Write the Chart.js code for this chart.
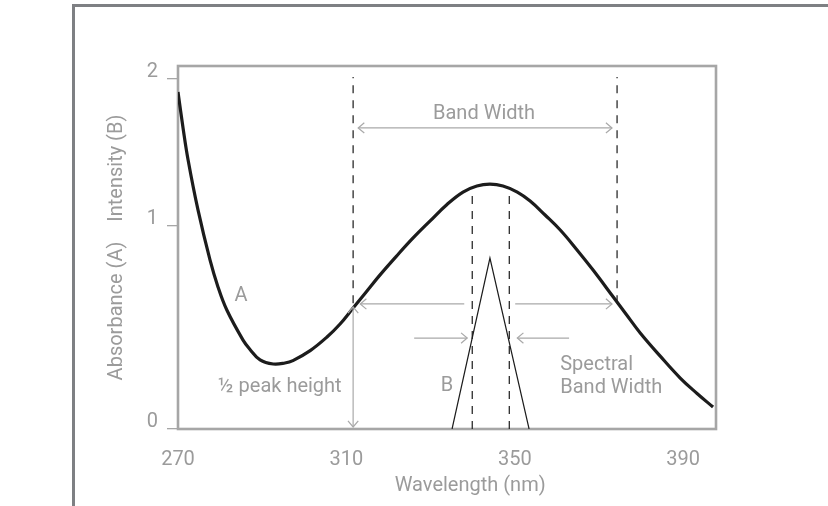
<!DOCTYPE html>
<html><head><meta charset="utf-8">
<script src="https://cdn.jsdelivr.net/npm/chart.js@4.4.1/dist/chart.umd.min.js"></script>
<style>html,body{margin:0;padding:0;background:#fff;}#wrap{position:relative;width:828px;height:506px;}canvas{display:block;}</style>
</head><body><div id="wrap"><canvas id="c" width="828" height="506"></canvas></div>
<script>
// ---- data ----
const wavelengthA = [270.0, 271.2, 272.4, 274.75, 277.6, 279.5, 281.6, 285.45, 287.1, 289.5, 292.6, 295.4, 297.3, 301.4, 305.4, 308.5, 311.6, 314.7, 318.0, 321.8, 325.85, 329.9, 333.9, 337.7, 341.0, 344.1, 347.2, 350.6, 353.65, 357.2, 360.8, 364.6, 368.6, 373.4, 376.5, 379.8, 384.5, 389.3, 393.3, 397.1];
const absorbanceA = [1.660, 1.483, 1.325, 1.079, 0.833, 0.700, 0.586, 0.438, 0.392, 0.340, 0.320, 0.325, 0.337, 0.386, 0.453, 0.517, 0.596, 0.675, 0.759, 0.849, 0.941, 1.025, 1.106, 1.167, 1.197, 1.206, 1.197, 1.167, 1.123, 1.054, 0.980, 0.887, 0.783, 0.650, 0.564, 0.473, 0.360, 0.251, 0.175, 0.108];
const wavelengthB = [335.1, 344.1, 353.4];
const intensityB = [0, 0.842, 0];
const bandEdgesNm = [311.6, 374.3];
const bandLineRange = [0.62, 1.734];
const slitEdgesNm = [339.9, 348.7];
const slitLineRange = [0, 1.167];
const xTickValues = [270, 310, 350, 390];
const yTickValues = [0, 1, 1.724];
const yTickLabels = ['0', '1', '2'];
const xRange = [270, 397.8];
const yRange = [0, 1.788];

// ---- annotations ----
const textNotes = [
  {text: 'Band Width', x: 342.7, y: 1.552, align: 'center'},
  {text: 'A', x: 285.0, y: 0.655, align: 'center'},
  {text: '½ peak height', x: 294.2, y: 0.207, align: 'center'},
  {text: 'B', x: 333.9, y: 0.212, align: 'center'},
  {text: 'Spectral', x: 360.8, y: 0.315, align: 'left'},
  {text: 'Band Width', x: 360.8, y: 0.202, align: 'left'}
];
const arrowNotes = [
  {from: [312.8, 1.483], to: [373.1, 1.483], both: true},
  {from: [338.0, 0.616], to: [313.3, 0.616]},
  {from: [350.1, 0.616], to: [373.1, 0.616]},
  {from: [326.1, 0.448], to: [338.7, 0.448]},
  {from: [362.9, 0.448], to: [350.6, 0.448]},
  {from: [311.6, 0.010], to: [311.6, 0.601], both: true}
];
const xTitle = {text: 'Wavelength (nm)', x: 339.4};

const GRAY_TEXT = '#9b9b9b';
const FONT = {family: 'Roboto', size: 20, weight: '400'};
const fontStr = '400 20px Roboto';

function pts(xs, ys) { return xs.map((x, i) => ({x: x, y: ys[i]})); }
function vline(x, r) { return [{x: x, y: r[0]}, {x: x, y: r[1]}]; }

const dashStyle = {type: 'line', borderColor: '#2b2b2b', borderWidth: 1.3, borderDash: [8, 7], pointRadius: 0, fill: false, tension: 0};

const datasets = [
  {label: 'A', data: pts(wavelengthA, absorbanceA), borderColor: '#1c1c1c', borderWidth: 3.2, pointRadius: 0, tension: 0.4, fill: false},
  {label: 'B', data: pts(wavelengthB, intensityB), borderColor: '#1c1c1c', borderWidth: 1.2, pointRadius: 0, tension: 0, fill: false},
  Object.assign({label: 'edgeL', data: vline(bandEdgesNm[0], bandLineRange)}, dashStyle),
  Object.assign({label: 'edgeR', data: vline(bandEdgesNm[1], bandLineRange)}, dashStyle),
  Object.assign({label: 'slitL', data: vline(slitEdgesNm[0], slitLineRange)}, dashStyle),
  Object.assign({label: 'slitR', data: vline(slitEdgesNm[1], slitLineRange)}, dashStyle)
];

function drawHead(ctx, x, y, ang) {
  const L = 8, W = 0.7;
  ctx.beginPath();
  ctx.moveTo(x - L * Math.cos(ang - W), y - L * Math.sin(ang - W));
  ctx.lineTo(x, y);
  ctx.lineTo(x - L * Math.cos(ang + W), y - L * Math.sin(ang + W));
  ctx.stroke();
}

const framePlugin = {
  id: 'frame',
  beforeDraw(chart) {
    const ctx = chart.ctx;
    ctx.save();
    ctx.fillStyle = '#ffffff';
    ctx.fillRect(0, 0, chart.width, chart.height);
    ctx.fillStyle = '#7e8083';
    ctx.fillRect(72, 4, chart.width - 72, 3);
    ctx.fillRect(72, 4, 3, chart.height - 4);
    ctx.restore();
  },
  beforeDatasetsDraw(chart) {
    const ctx = chart.ctx, a = chart.chartArea;
    ctx.save();
    ctx.strokeStyle = '#a6a6a6';
    ctx.lineWidth = 2.6;
    ctx.strokeRect(a.left, a.top, a.right - a.left, a.bottom - a.top);
    ctx.restore();
  },
  afterDatasetsDraw(chart) {
    const ctx = chart.ctx, xs = chart.scales.x, ys = chart.scales.y;
    ctx.save();
    ctx.strokeStyle = '#a9a9a9';
    ctx.lineWidth = 1.2;
    arrowNotes.forEach(n => {
      const x1 = xs.getPixelForValue(n.from[0]), y1 = ys.getPixelForValue(n.from[1]);
      const x2 = xs.getPixelForValue(n.to[0]), y2 = ys.getPixelForValue(n.to[1]);
      ctx.beginPath(); ctx.moveTo(x1, y1); ctx.lineTo(x2, y2); ctx.stroke();
      const ang = Math.atan2(y2 - y1, x2 - x1);
      drawHead(ctx, x2, y2, ang);
      if (n.both) drawHead(ctx, x1, y1, ang + Math.PI);
    });
    ctx.fillStyle = GRAY_TEXT;
    ctx.font = fontStr;
    ctx.textBaseline = 'middle';
    textNotes.forEach(t => {
      ctx.textAlign = t.align;
      ctx.fillText(t.text, xs.getPixelForValue(t.x), ys.getPixelForValue(t.y));
    });
    ctx.textAlign = 'center';
    ctx.fillText(xTitle.text, xs.getPixelForValue(xTitle.x), xs.bottom - 20);
    ctx.restore();
  }
};

new Chart(document.getElementById('c'), {
  type: 'line',
  data: {datasets: datasets},
  options: {
    responsive: false,
    animation: false,
    events: [],
    layout: {padding: {left: 101, top: 66, right: 112, bottom: 0}},
    plugins: {legend: {display: false}, tooltip: {enabled: false}},
    scales: {
      x: {
        type: 'linear', min: xRange[0], max: xRange[1],
        afterBuildTicks: s => { s.ticks = xTickValues.map(v => ({value: v})); },
        afterFit: s => { s.height = 77; },
        grid: {display: false, drawTicks: false},
        border: {display: false},
        ticks: {color: GRAY_TEXT, font: FONT, padding: 19, maxRotation: 0, autoSkip: false, callback: v => String(v)},
        title: {display: false}
      },
      y: {
        type: 'linear', min: yRange[0], max: yRange[1],
        afterBuildTicks: s => { s.ticks = yTickValues.map(v => ({value: v})); },
        afterFit: s => { s.width = 77; },
        grid: {display: true, drawOnChartArea: false, drawTicks: true, tickLength: 11, color: '#a6a6a6', tickColor: '#a6a6a6', lineWidth: 1.3},
        border: {display: false},
        ticks: {color: GRAY_TEXT, font: FONT, padding: 9, labelOffset: -7, autoSkip: false,
          callback: (v, i) => yTickLabels[i]},
        title: {display: true, text: 'Absorbance (A)    Intensity (B)', color: GRAY_TEXT, font: FONT, padding: {top: 4, bottom: 4}}
      }
    }
  },
  plugins: [framePlugin]
});
</script>
</body></html>
